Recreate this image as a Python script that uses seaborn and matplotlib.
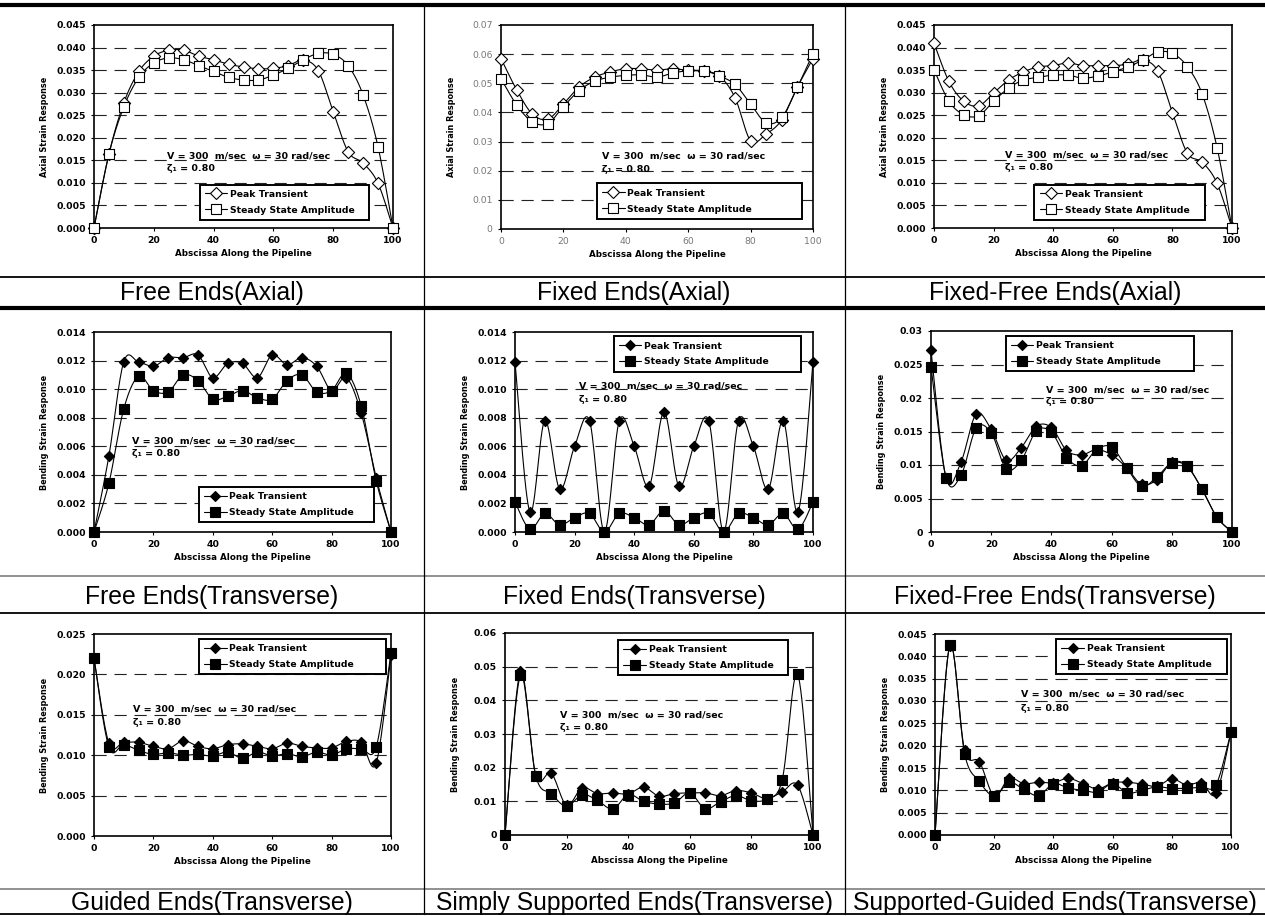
import matplotlib
matplotlib.use("Agg")
import matplotlib.pyplot as plt
from matplotlib.lines import Line2D
import numpy as np
import seaborn as sns

sns.set_theme(style="white")
plt.rcParams['font.family'] = ['DejaVu Sans']
plt.rcParams['text.color'] = 'black'
plt.rcParams['axes.labelcolor'] = 'black'
plt.rcParams['xtick.color'] = 'black'
plt.rcParams['ytick.color'] = 'black'

# ---------------------------------------------------------------- data
abscissa = [0, 5, 10, 15, 20, 25, 30, 35, 40, 45, 50,
            55, 60, 65, 70, 75, 80, 85, 90, 95, 100]

free_axial_peak = [0.0, 0.0164, 0.0278, 0.0347, 0.0381, 0.0394, 0.0394, 0.0381, 0.0373, 0.0363, 0.0357,
                   0.0353, 0.0354, 0.0360, 0.0372, 0.0349, 0.0258, 0.0169, 0.0144, 0.0099, 0.0]
free_axial_steady = [0.0, 0.0164, 0.0269, 0.0334, 0.0366, 0.0377, 0.0373, 0.0360, 0.0347, 0.0334, 0.0328,
                     0.0328, 0.0339, 0.0354, 0.0373, 0.0387, 0.0385, 0.0360, 0.0295, 0.0180, 0.0]

fixed_axial_peak = [0.0585, 0.0478, 0.0395, 0.0377, 0.0429, 0.0487, 0.0521, 0.0539, 0.0550, 0.0550, 0.0545,
                    0.0550, 0.0544, 0.0541, 0.0525, 0.0451, 0.0303, 0.0326, 0.0375, 0.0487, 0.0585]
fixed_axial_steady = [0.0516, 0.0426, 0.0368, 0.0362, 0.0420, 0.0475, 0.0507, 0.0521, 0.0527, 0.0529, 0.0521,
                      0.0535, 0.0543, 0.0543, 0.0525, 0.0496, 0.0429, 0.0364, 0.0383, 0.0487, 0.0602]

fixedfree_axial_peak = [0.0410, 0.0325, 0.0281, 0.0271, 0.0299, 0.0328, 0.0346, 0.0357, 0.0360, 0.0366, 0.0360,
                        0.0360, 0.0360, 0.0363, 0.0372, 0.0349, 0.0256, 0.0166, 0.0146, 0.0099, 0.0]
fixedfree_axial_steady = [0.0351, 0.0281, 0.0251, 0.0249, 0.0281, 0.0310, 0.0328, 0.0334, 0.0339, 0.0339, 0.0332,
                          0.0337, 0.0346, 0.0357, 0.0372, 0.0390, 0.0387, 0.0358, 0.0297, 0.0178, 0.0]

free_trans_peak = [0.0, 0.0053, 0.0119, 0.0119, 0.0116, 0.0122, 0.0122, 0.0124, 0.0108, 0.0118, 0.0118,
                   0.0108, 0.0124, 0.0117, 0.0122, 0.0116, 0.0099, 0.0108, 0.0083, 0.0038, 0.0]
free_trans_steady = [0.0, 0.0034, 0.0086, 0.0109, 0.0099, 0.0098, 0.0110, 0.0106, 0.0093, 0.0095, 0.0099,
                     0.0094, 0.0093, 0.0106, 0.0110, 0.0098, 0.0099, 0.0111, 0.0088, 0.0036, 0.0]

fixed_trans_peak = [0.0119, 0.0014, 0.0078, 0.0030, 0.0060, 0.0078, 0.0, 0.0078, 0.0060, 0.0032, 0.0084,
                    0.0032, 0.0060, 0.0078, 0.0, 0.0078, 0.0060, 0.0030, 0.0078, 0.0014, 0.0119]
fixed_trans_steady = [0.0021, 0.0002, 0.0013, 0.0005, 0.0010, 0.0013, 0.0, 0.0013, 0.0010, 0.0005, 0.0015,
                      0.0005, 0.0010, 0.0013, 0.0, 0.0013, 0.0010, 0.0005, 0.0013, 0.0002, 0.0021]

fixedfree_trans_peak = [0.0271, 0.0081, 0.0105, 0.0176, 0.0153, 0.0107, 0.0126, 0.0158, 0.0156, 0.0122, 0.0115,
                        0.0123, 0.0115, 0.0096, 0.0071, 0.0078, 0.0104, 0.0099, 0.0064, 0.0022, 0.0]
fixedfree_trans_steady = [0.0247, 0.0081, 0.0085, 0.0155, 0.0148, 0.0094, 0.0107, 0.0151, 0.0149, 0.0111, 0.0099,
                          0.0123, 0.0127, 0.0096, 0.0068, 0.0082, 0.0103, 0.0098, 0.0064, 0.0022, 0.0]

guided_trans_peak = [0.0220, 0.0115, 0.0116, 0.0116, 0.0111, 0.0108, 0.0118, 0.0111, 0.0108, 0.0113, 0.0114,
                     0.0111, 0.0108, 0.0115, 0.0111, 0.0109, 0.0109, 0.0117, 0.0116, 0.0090, 0.0224]
guided_trans_steady = [0.0220, 0.0110, 0.0113, 0.0106, 0.0101, 0.0103, 0.0100, 0.0101, 0.0099, 0.0104, 0.0096,
                       0.0104, 0.0099, 0.0102, 0.0098, 0.0104, 0.0100, 0.0108, 0.0108, 0.0110, 0.0227]

simple_trans_peak = [0.0, 0.0486, 0.0176, 0.0184, 0.0088, 0.0140, 0.0123, 0.0125, 0.0122, 0.0142, 0.0115,
                     0.0123, 0.0125, 0.0125, 0.0117, 0.0132, 0.0125, 0.0108, 0.0128, 0.0148, 0.0]
simple_trans_steady = [0.0, 0.0474, 0.0176, 0.0123, 0.0085, 0.0120, 0.0103, 0.0077, 0.0120, 0.0100, 0.0092,
                       0.0095, 0.0125, 0.0078, 0.0099, 0.0117, 0.0102, 0.0107, 0.0164, 0.0478, 0.0]

suppguided_trans_peak = [0.0, 0.0424, 0.0190, 0.0164, 0.0087, 0.0127, 0.0115, 0.0118, 0.0117, 0.0127, 0.0115,
                         0.0103, 0.0117, 0.0118, 0.0114, 0.0109, 0.0126, 0.0112, 0.0117, 0.0093, 0.0231]
suppguided_trans_steady = [0.0, 0.0425, 0.0182, 0.0120, 0.0087, 0.0118, 0.0102, 0.0088, 0.0115, 0.0105, 0.0100,
                           0.0096, 0.0115, 0.0094, 0.0100, 0.0108, 0.0104, 0.0105, 0.0107, 0.0113, 0.0231]

captions = ["Free Ends(Axial)", "Fixed Ends(Axial)", "Fixed-Free Ends(Axial)",
            "Free Ends(Transverse)", "Fixed Ends(Transverse)", "Fixed-Free Ends(Transverse)",
            "Guided Ends(Transverse)", "Simply Supported Ends(Transverse)", "Supported-Guided Ends(Transverse)"]

series_names = ["Peak Transient", "Steady State Amplitude"]
note_line1 = "V = 300  m/sec  \u03c9 = 30 rad/sec"
note_line2 = "\u03b6\u2081 = 0.80"
xlabel_text = "Abscissa Along the Pipeline"
ylabel_axial = "Axial Strain Response"
ylabel_bending = "Bending Strain Response"
x_ticks = [0, 20, 40, 60, 80, 100]

# ------------------------------------------------------------- layout
W, H = 1265, 916

panels = [
    dict(peak=free_axial_peak, steady=free_axial_steady, box=(94, 393, 25, 228), ymax=0.045, ystep=0.005,
         fmt="fixed", ylabel=ylabel_axial, filled=False, leg=(0.354, 0.027, 0.566, 0.20),
         note=(24.5, 0.0159, 0.0133), tickcolor="black"),
    dict(peak=fixed_axial_peak, steady=fixed_axial_steady, box=(501, 813, 25, 229), ymax=0.07, ystep=0.01,
         fmt="general", ylabel=ylabel_axial, filled=False, leg=(0.308, 0.037, 0.657, 0.20),
         note=(32.4, 0.0251, 0.0203), tickcolor="gray"),
    dict(peak=fixedfree_axial_peak, steady=fixedfree_axial_steady, box=(934, 1232, 25, 228), ymax=0.045,
         ystep=0.005, fmt="fixed", ylabel=ylabel_axial, filled=False, leg=(0.337, 0.027, 0.573, 0.20),
         note=(23.8, 0.0161, 0.0134), tickcolor="black"),
    dict(peak=free_trans_peak, steady=free_trans_steady, box=(94, 391, 332, 532), ymax=0.014, ystep=0.002,
         fmt="fixed", ylabel=ylabel_bending, filled=True, leg=(0.354, 0.041, 0.59, 0.19),
         note=(12.9, 0.0064, 0.0055), tickcolor="black"),
    dict(peak=fixed_trans_peak, steady=fixed_trans_steady, box=(515, 813, 332, 532), ymax=0.014, ystep=0.002,
         fmt="fixed", ylabel=ylabel_bending, filled=True, leg=(0.332, 0.79, 0.627, 0.20),
         note=(21.5, 0.0102, 0.0093), tickcolor="black"),
    dict(peak=fixedfree_trans_peak, steady=fixedfree_trans_steady, box=(931, 1232, 331, 532), ymax=0.03,
         ystep=0.005, fmt="general", ylabel=ylabel_bending, filled=True, leg=(0.249, 0.787, 0.626, 0.20),
         note=(38.2, 0.0212, 0.0195), tickcolor="black"),
    dict(peak=guided_trans_peak, steady=guided_trans_steady, box=(94, 391, 634, 836), ymax=0.025, ystep=0.005,
         fmt="fixed", ylabel=ylabel_bending, filled=True, leg=(0.354, 0.788, 0.63, 0.20),
         note=(13.0, 0.0157, 0.0141), tickcolor="black"),
    dict(peak=simple_trans_peak, steady=simple_trans_steady, box=(505, 813, 633, 835), ymax=0.06, ystep=0.01,
         fmt="general", ylabel=ylabel_bending, filled=True, leg=(0.368, 0.778, 0.552, 0.20),
         note=(18.0, 0.0357, 0.0318), tickcolor="black"),
    dict(peak=suppguided_trans_peak, steady=suppguided_trans_steady, box=(935, 1231, 634, 835), ymax=0.045,
         ystep=0.005, fmt="fixed", ylabel=ylabel_bending, filled=True, leg=(0.41, 0.787, 0.577, 0.20),
         note=(29.0, 0.0315, 0.0284), tickcolor="black"),
]

caption_rows = [293, 597, 903]
caption_cols = [212, 634, 1055]


def smooth_curve(xs, ys, n=16):
    """Catmull-Rom spline through the points (spreadsheet-style smoothed line)."""
    p = np.column_stack([xs, ys]).astype(float)
    p = np.vstack([p[0], p, p[-1]])
    t = np.linspace(0, 1, n, endpoint=False)[:, None]
    out = []
    for i in range(1, len(p) - 2):
        p0, p1, p2, p3 = p[i - 1], p[i], p[i + 1], p[i + 2]
        seg = 0.5 * ((2 * p1) + (-p0 + p2) * t + (2 * p0 - 5 * p1 + 4 * p2 - p3) * t ** 2
                     + (-p0 + 3 * p1 - 3 * p2 + p3) * t ** 3)
        out.append(seg)
    out.append(p[-2][None, :])
    out = np.vstack(out)
    return out[:, 0], out[:, 1]


def tick_text(v, fmt):
    if fmt == "fixed":
        return f"{v:.3f}"
    return "0" if abs(v) < 1e-12 else f"{v:g}"


fig = plt.figure(figsize=(W / 100, H / 100), dpi=100)
fig.patch.set_facecolor("white")

for spec in panels:
    l, r, t, b = spec["box"]
    ax = fig.add_axes([l / W, 1 - b / H, (r - l) / W, (b - t) / H])
    ax.set_facecolor("white")

    filled = spec["filled"]
    styles = [
        dict(marker="D", size=5.2 if filled else 6.2, face="black" if filled else "white"),
        dict(marker="s", size=7.0 if filled else 7.6, face="black" if filled else "white"),
    ]
    for vals, st in zip([spec["peak"], spec["steady"]], styles):
        sx, sy = smooth_curve(abscissa, vals)
        sns.lineplot(x=sx, y=sy, ax=ax, color="black", linewidth=0.8, sort=False,
                     estimator=None, zorder=2)
        sns.scatterplot(x=abscissa, y=vals, ax=ax, marker=st["marker"], s=st["size"] ** 2,
                        color=st["face"], edgecolor="black", linewidth=0.8, zorder=3, clip_on=False)

    ax.set_xlim(0, 100)
    ax.set_ylim(0, spec["ymax"])
    yt = np.round(np.arange(0, spec["ymax"] + spec["ystep"] / 2, spec["ystep"]), 6)
    ax.set_yticks(yt)
    ax.set_xticks(x_ticks)
    gray = spec["tickcolor"] == "gray"
    weight = "normal" if gray else "bold"
    tcol = "#777777" if gray else "black"
    ax.set_yticklabels([tick_text(v, spec["fmt"]) for v in yt], fontsize=6.7, fontweight=weight, color=tcol)
    ax.set_xticklabels([str(v) for v in x_ticks], fontsize=6.7, fontweight=weight, color=tcol)
    ax.tick_params(axis="both", which="major", length=2, width=0.8, color="black",
                   direction="out", left=True, bottom=True, pad=4)

    for yv in yt[1:-1]:
        ax.axhline(yv, color="#222222", linewidth=0.8, linestyle=(0, (11, 7)), zorder=1)

    for sp in ax.spines.values():
        sp.set_visible(True)
        sp.set_color("black")
        sp.set_linewidth(1.2)

    ax.set_xlabel(xlabel_text, fontsize=6.3, fontweight="bold")
    ax.set_ylabel(spec["ylabel"], fontsize=5.9, fontweight="bold")
    ax.xaxis.set_label_coords(0.5, -21 / (b - t))
    ax.yaxis.set_label_coords(-45 / (r - l), 0.5)

    nx, ny1, ny2 = spec["note"]
    ax.text(nx, ny1, note_line1, fontsize=6.8, fontweight="bold", va="center", ha="left", zorder=4)
    ax.text(nx, ny2, note_line2, fontsize=6.8, fontweight="bold", va="center", ha="left", zorder=4)

    handles = [
        Line2D([], [], color="black", lw=0.8, marker=styles[0]["marker"], ms=styles[0]["size"],
               mfc=styles[0]["face"], mec="black", mew=0.8),
        Line2D([], [], color="black", lw=0.8, marker=styles[1]["marker"], ms=styles[1]["size"],
               mfc=styles[1]["face"], mec="black", mew=0.8),
    ]
    lx, ly, lw_, lh = spec["leg"]
    leg = ax.legend(handles, series_names, loc="center", bbox_to_anchor=(lx, ly, lw_, lh),
                    mode="expand", frameon=True, fancybox=False, framealpha=1, edgecolor="black",
                    borderpad=0.55, handlelength=2.4, handletextpad=0.3, labelspacing=0.75,
                    borderaxespad=0, prop=dict(weight="bold", size=6.7))
    leg.get_frame().set_linewidth(1.4)
    leg.set_zorder(5)

# captions
k = 0
for cy in caption_rows:
    for cx in caption_cols:
        fig.text(cx / W, 1 - cy / H, captions[k], ha="center", va="center",
                 fontsize=17.8, family="Liberation Sans", color="black")
        k += 1


# table rules
def hrule(y, lw, color="black"):
    fig.add_artist(Line2D([0, 1], [1 - y / H, 1 - y / H], color=color, linewidth=lw))


hrule(4.5, 3.0)
hrule(277, 1.3)
hrule(308, 3.0)
hrule(576, 1.3, "#888888")
hrule(613, 1.3)
hrule(889, 1.3, "#888888")
hrule(914, 1.3)
for xv in (424, 845):
    fig.add_artist(Line2D([xv / W, xv / W], [1 - 4 / H, 1 - 914 / H], color="black", linewidth=0.9))

fig.savefig("out.png", dpi=100, facecolor="white")
